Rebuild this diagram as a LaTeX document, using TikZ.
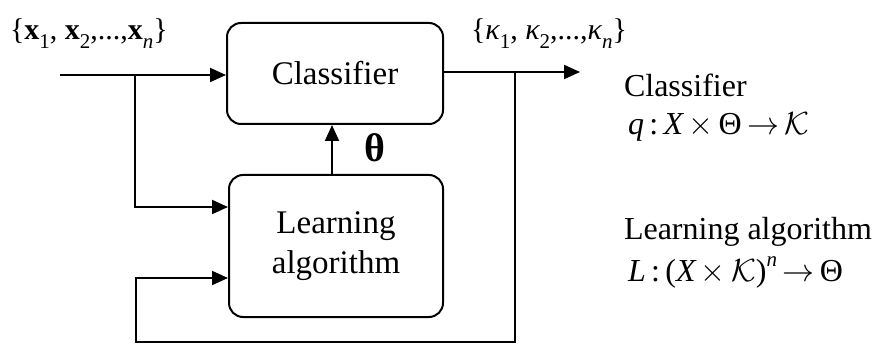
\RequirePackage{fix-cm}
\documentclass[tikz,border=0pt]{standalone}
\usepackage{fontspec}
\setmainfont{Liberation Serif}
\usetikzlibrary{arrows.meta}
\newcommand{\mysub}[1]{\raisebox{-0.3em}{\fontsize{21}{21}\selectfont #1}}
\newcommand{\mysup}[1]{\raisebox{0.45em}{\fontsize{21}{21}\selectfont #1}}
\begin{document}
\begin{tikzpicture}[x=1pt,y=-1pt, line width=2pt,
  blk/.style={draw, rounded corners=14pt, font=\fontsize{33}{40}\selectfont, align=center, inner sep=0pt},
  arr/.style={-{Triangle[length=16pt,width=14pt]}},
  lbl/.style={font=\fontsize{32}{40}\selectfont, anchor=base west, inner sep=0pt},
  setlbl/.style={font=\fontsize{30}{36}\selectfont, anchor=base west, inner sep=0pt}]
\useasboundingbox (0,0) rectangle (885,347);
\node[blk, minimum width=216pt, minimum height=101pt] (cls) at (335,73.5) {Classifier};
\node[blk, minimum width=214pt, minimum height=142pt] (learn) at (336,246) {Learning\\algorithm};
\coordinate (in) at (60,75);
\coordinate (split) at (135,75);
\coordinate (l1) at (135,207);
\coordinate (th) at (332,150);
\coordinate (out) at (580,72);
\coordinate (fb) at (515,72);
\coordinate (fbbot) at (515,342);
\coordinate (l2) at (136,278);
\draw[arr] (in) -- (in -| cls.west);
\draw[arr] (split) |- (l1 -| learn.west);
\draw[arr] (learn.north -| th) -- (cls.south -| th);
\draw[arr] (cls.east |- out) -- (out);
\draw[arr] (fb) -- (fbbot) -| (l2) -- (l2 -| learn.west);
\node[font=\bfseries\fontsize{40}{40}\selectfont, inner sep=0pt] (theta) at (375,148) {θ};
\node[setlbl] (xs) at (9,40) {\{\textbf{x}\mysub{1}, \textbf{x}\mysub{2},...,\textbf{x}\mysub{\itshape n}\}};
\node[setlbl] (ks) at (470,40) {\{\itshape κ\upshape\mysub{1}, \itshape κ\upshape\mysub{2},...,\itshape κ\upshape\mysub{\itshape n}\}};
\node[lbl] (rc) at (623,97) {Classifier};
\node[lbl] (rq) at (627,135) {\itshape q\upshape\,:\,\itshape X\upshape\,$\times$\,Θ\,$\rightarrow$\,$\mathcal{K}$};
\node[lbl] (rl) at (623,240) {Learning algorithm};
\node[lbl] (rL) at (627,281) {\itshape L\upshape\,:\,(\itshape X\upshape\,$\times$\,$\mathcal{K}$)\mysup{\itshape n}\,$\rightarrow$\,Θ};
\end{tikzpicture}
\end{document}
